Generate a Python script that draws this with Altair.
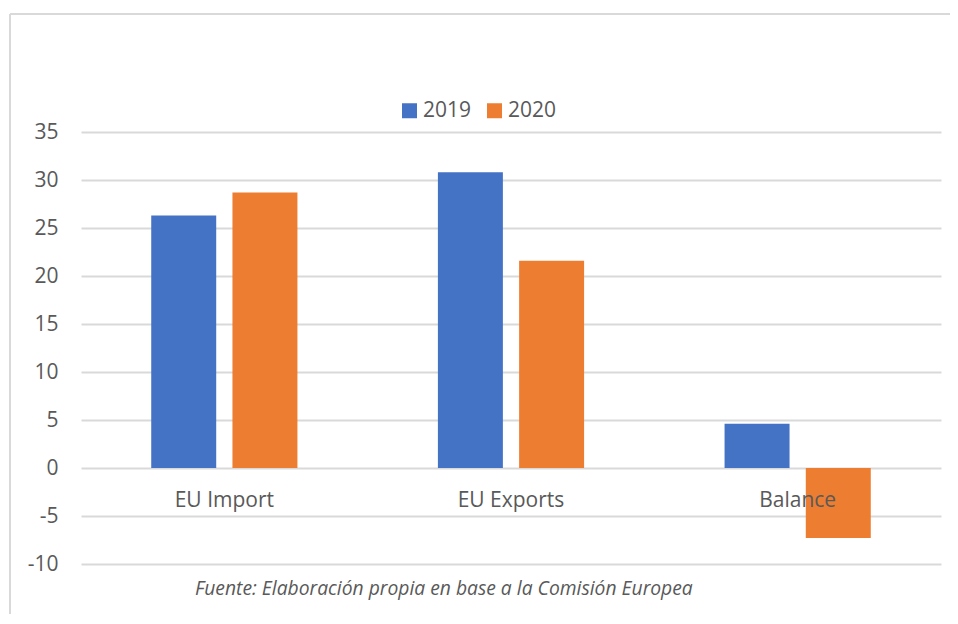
import altair as alt
import pandas as pd

categories = ["EU Import", "EU Exports", "Balance"]
years = ["2019", "2020"]
values_2019 = [26.3, 30.8, 4.6]
values_2020 = [28.7, 21.6, -7.3]
y_ticks = [-10, -5, 0, 5, 10, 15, 20, 25, 30, 35]
caption = "Fuente: Elaboración propia en base a la Comisión Europea"

rows = []
for c, v in zip(categories, values_2019):
    rows.append({"cat": c, "year": "2019", "value": v})
for c, v in zip(categories, values_2020):
    rows.append({"cat": c, "year": "2020", "value": v})
df = pd.DataFrame(rows)

FONT = "Open Sans"
GRAY = "#595959"
GRID = "#d9d9d9"

bars = alt.Chart(df).mark_bar().encode(
    x=alt.X("cat:N", sort=categories, title=None,
            scale=alt.Scale(paddingInner=0.49, paddingOuter=0.245),
            axis=alt.Axis(offset=-96, domain=False, ticks=False, labelAngle=0,
                          labelPadding=21, labelFontSize=21, labelColor=GRAY,
                          labelFont=FONT, zindex=1)),
    xOffset=alt.XOffset("year:N", scale=alt.Scale(paddingInner=0.2, paddingOuter=0)),
    y=alt.Y("value:Q", title=None,
            scale=alt.Scale(domain=[-10, 35], nice=False, zero=False),
            axis=alt.Axis(values=y_ticks, domain=False, ticks=False,
                          labelExpr="datum.value < 0 ? '-' + abs(datum.value) : '' + datum.value",
                          labelPadding=23, labelFontSize=21, labelColor=GRAY,
                          labelFont=FONT, gridColor=GRID, gridWidth=2)),
    color=alt.Color("year:N", scale=alt.Scale(domain=years, range=["#4472C4", "#ED7D31"]),
                    legend=alt.Legend(title=None, orient="none", direction="horizontal",
                                      legendX=318, legendY=-32, symbolType="square",
                                      symbolSize=225, symbolStrokeWidth=0,
                                      labelFontSize=21, labelColor=GRAY, labelFont=FONT,
                                      columnPadding=12, labelOffset=3)),
)

frame_top = alt.Chart(alt.Data(values=[{}])).mark_rule(
    stroke=GRID, strokeWidth=2
).encode(x=alt.value(-71), x2=alt.value(900), y=alt.value(-118))

frame_left = alt.Chart(alt.Data(values=[{}])).mark_rule(
    stroke=GRID, strokeWidth=2
).encode(x=alt.value(-71), y=alt.value(-118), y2=alt.value(600))

cap = alt.Chart(alt.Data(values=[{"t": caption}])).mark_text(
    align="left", baseline="middle", fontStyle="italic", fontSize=19.3,
    color=GRAY, font=FONT
).encode(text="t:N", x=alt.value(114), y=alt.value(457))

chart = alt.layer(frame_top, frame_left, bars, cap).properties(
    width=860, height=432,
    padding={"left": 73, "top": 124, "right": 9, "bottom": 50},
    autosize=alt.AutoSizeParams(type="none"),
).configure_view(stroke=None)

chart.save("out.html", embed_options={"renderer": "svg", "actions": False})
